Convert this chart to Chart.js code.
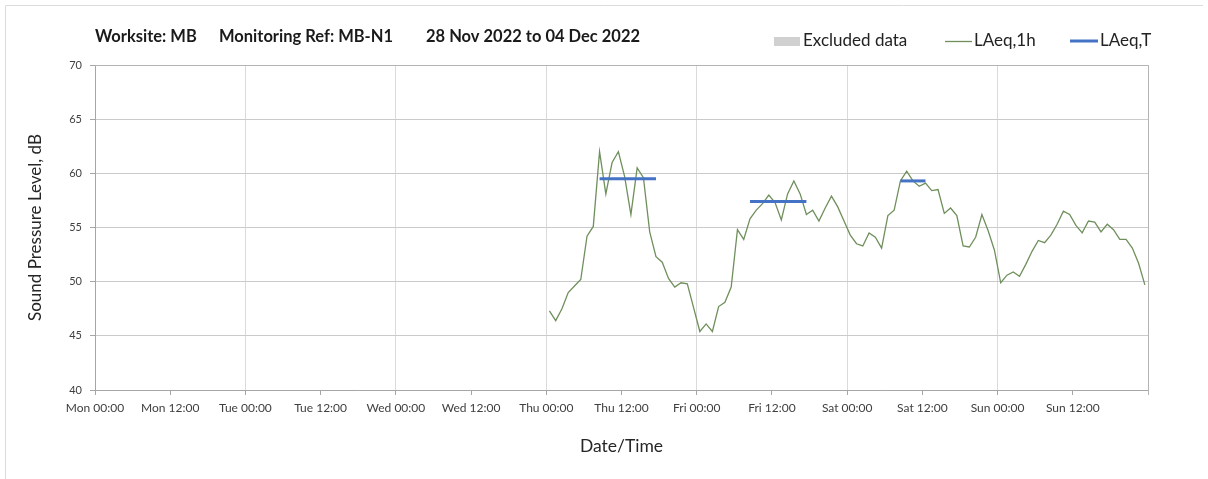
<!DOCTYPE html>
<html>
<head>
<meta charset="utf-8">
<script src="https://cdn.jsdelivr.net/npm/chart.js@4.4.0/dist/chart.umd.min.js"></script>
<style>
  body { margin: 0; background: #fff; }
  #wrap { width: 1208px; height: 479px; }
</style>
</head>
<body>
<div id="wrap"><canvas id="noiseChart" width="1208" height="479"></canvas></div>
<script>
// hours from Mon 00:00, one hourly value per hour starting Thu 00:30
const firstHour = 72.5;
const laeq1h = [
  47.3, 46.4, 47.5, 49.0, 49.6, 50.2, 54.2, 55.1, 62.0, 58.1, 61.0, 62.0,
  59.7, 56.2, 60.5, 59.6, 54.6, 52.3, 51.8, 50.3, 49.5, 49.9, 49.8, 47.6,
  45.4, 46.1, 45.4, 47.7, 48.1, 49.5, 54.8, 53.9, 55.8, 56.6, 57.2, 58.0,
  57.3, 55.7, 58.1, 59.3, 58.1, 56.2, 56.6, 55.6, 56.8, 57.9, 56.9, 55.6,
  54.3, 53.5, 53.3, 54.5, 54.1, 53.1, 56.1, 56.6, 59.3, 60.2, 59.3, 58.8,
  59.1, 58.4, 58.5, 56.3, 56.8, 56.1, 53.3, 53.2, 54.1, 56.2, 54.7, 52.9,
  49.9, 50.6, 50.9, 50.5, 51.6, 52.8, 53.8, 53.6, 54.3, 55.3, 56.5, 56.2,
  55.2, 54.5, 55.6, 55.5, 54.6, 55.3, 54.8, 53.9, 53.9, 53.1, 51.7, 49.7
];

// LAeq,T periods
const periodStart = [80.5, 104.5, 128.5];
const periodEnd = [89.5, 113.5, 132.5];
const periodLevel = [59.5, 57.4, 59.3];

const tickLabels = [
  'Mon 00:00', 'Mon 12:00', 'Tue 00:00', 'Tue 12:00', 'Wed 00:00', 'Wed 12:00',
  'Thu 00:00', 'Thu 12:00', 'Fri 00:00', 'Fri 12:00', 'Sat 00:00', 'Sat 12:00',
  'Sun 00:00', 'Sun 12:00', ''
];

const titleParts = ['Worksite: MB', 'Monitoring Ref: MB-N1', '28 Nov 2022 to 04 Dec 2022'];
const legendLabels = ['Excluded data', 'LAeq,1h', 'LAeq,T'];

const FONT = 'Lato, "Open Sans", sans-serif';
const green = '#6f8f5c';
const blue = '#4472c4';

const datasets = [{
  label: 'LAeq,1h',
  data: laeq1h.map((v, i) => ({ x: firstHour + i, y: v })),
  borderColor: green,
  borderWidth: 1.3,
  pointRadius: 0,
  tension: 0,
  order: 2
}];
periodStart.forEach((s, i) => {
  datasets.push({
    label: 'LAeq,T',
    data: [{ x: s, y: periodLevel[i] }, { x: periodEnd[i], y: periodLevel[i] }],
    borderColor: blue,
    borderWidth: 3,
    pointRadius: 0,
    order: 1
  });
});

const decor = {
  id: 'decor',
  beforeDraw(chart) {
    const ctx = chart.ctx;
    ctx.save();
    ctx.strokeStyle = '#dcdcdc';
    ctx.lineWidth = 1;
    ctx.beginPath();
    ctx.moveTo(5.5, chart.height);
    ctx.lineTo(5.5, 5.5);
    ctx.lineTo(1203, 5.5);
    ctx.stroke();
    ctx.restore();
  },
  afterDraw(chart) {
    const ctx = chart.ctx;
    const a = chart.chartArea;
    ctx.save();
    // frame top and right
    ctx.strokeStyle = '#b4b4b4';
    ctx.lineWidth = 1;
    ctx.beginPath();
    ctx.moveTo(a.left, Math.round(a.top) + 0.5);
    ctx.lineTo(Math.round(a.right) + 0.5, Math.round(a.top) + 0.5);
    ctx.lineTo(Math.round(a.right) + 0.5, a.bottom + 5);
    ctx.stroke();

    // title
    ctx.fillStyle = '#1a1a1a';
    ctx.font = 'bold 16.5px ' + FONT;
    ctx.textBaseline = 'middle';
    ctx.textAlign = 'left';
    const tx = [95, 219, 426];
    titleParts.forEach((t, i) => ctx.fillText(t, tx[i], 37));

    // legend
    ctx.font = '17px ' + FONT;
    ctx.fillStyle = '#d0d0d0';
    ctx.fillRect(774, 37, 26, 9);
    ctx.fillStyle = '#222';
    ctx.fillText(legendLabels[0], 803, 41);

    ctx.strokeStyle = green;
    ctx.lineWidth = 1.3;
    ctx.beginPath();
    ctx.moveTo(945, 41.5);
    ctx.lineTo(972, 41.5);
    ctx.stroke();
    ctx.fillText(legendLabels[1], 974, 41);

    ctx.strokeStyle = blue;
    ctx.lineWidth = 3;
    ctx.beginPath();
    ctx.moveTo(1070, 41);
    ctx.lineTo(1098, 41);
    ctx.stroke();
    ctx.fillText(legendLabels[2], 1100, 41);
    ctx.restore();
  }
};

new Chart(document.getElementById('noiseChart'), {
  type: 'line',
  data: { datasets },
  plugins: [decor],
  options: {
    responsive: false,
    animation: false,
    layout: { padding: { top: 65, right: 60, left: 0, bottom: 0 } },
    plugins: {
      legend: { display: false },
      tooltip: { enabled: false }
    },
    scales: {
      x: {
        type: 'linear',
        min: 0,
        max: 168,
        afterFit: (scale) => { scale.height = 89; },
        ticks: {
          stepSize: 12,
          autoSkip: false,
          maxRotation: 0,
          padding: 6,
          color: '#404040',
          font: { family: FONT, size: 12 },
          callback: (v) => tickLabels[Math.round(v / 12)]
        },
        grid: {
          color: (c) => (c.tick && c.tick.value % 24 === 0 ? '#dadada' : 'rgba(0,0,0,0)'),
          tickColor: '#a6a6a6',
          tickLength: 5
        },
        border: { color: '#a6a6a6' },
        title: {
          display: true,
          text: 'Date/Time',
          color: '#262626',
          font: { family: FONT, size: 17.5 },
          padding: { top: 0, bottom: 22 }
        }
      },
      y: {
        min: 40,
        max: 70,
        afterFit: (scale) => { scale.width = 95; },
        ticks: {
          stepSize: 5,
          padding: 8,
          color: '#404040',
          font: { family: FONT, size: 11 }
        },
        grid: {
          color: '#cacaca',
          tickColor: '#a6a6a6',
          tickLength: 5
        },
        border: { color: '#a6a6a6' },
        title: {
          display: true,
          text: 'Sound Pressure Level, dB',
          color: '#262626',
          font: { family: FONT, size: 17 },
          padding: { top: 25, bottom: 0 }
        }
      }
    }
  }
});
</script>
</body>
</html>
